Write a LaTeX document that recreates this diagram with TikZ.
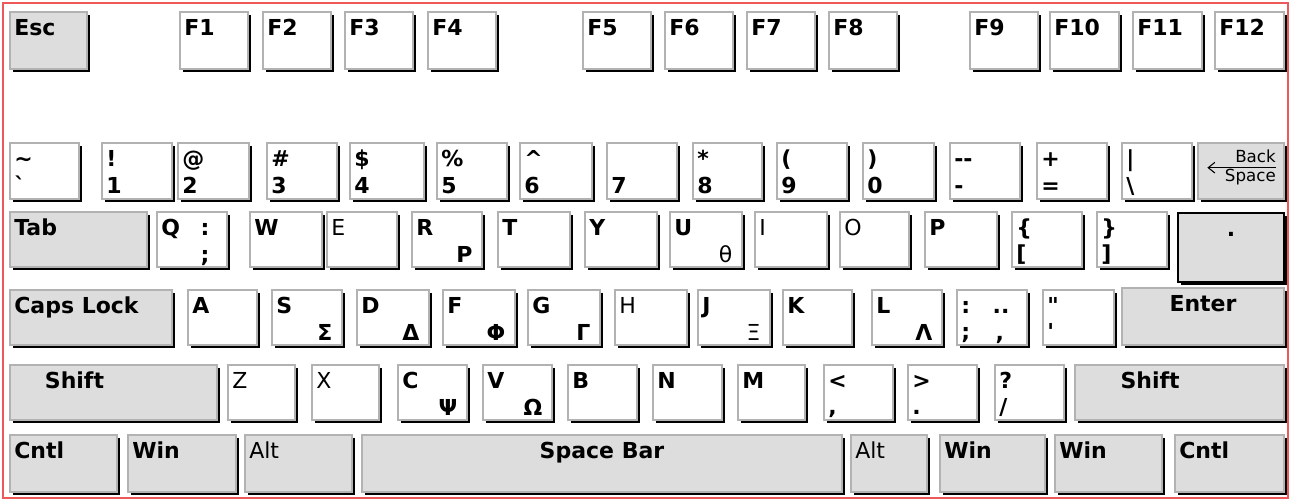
\documentclass[tikz,border=0pt]{standalone}
\usepackage{fontspec}
\newfontfamily\keyfont{DejaVu Sans}
\usepackage{xcolor}
\definecolor{kbgray}{RGB}{221,221,221}
\definecolor{kbrim}{RGB}{178,178,178}
\definecolor{kbred}{RGB}{238,88,88}
\usepackage{tikz}
\usetikzlibrary{arrows.meta, shadows, fit}

\tikzset{
  key/.style={draw=kbrim, line width=0.9pt, fill=white, inner sep=0pt, outer sep=0pt,
    drop shadow={shadow xshift=2.3pt, shadow yshift=-2.3pt, fill=black, opacity=1}},
  modkey/.style={key, fill=kbgray},
  keytext/.style={font={\keyfont\bfseries\fontsize{16.5}{17}\selectfont}, text height=12pt, text depth=0pt, inner xsep=3pt},
  ktl/.style={label={[keytext, anchor=north west, inner ysep=5.5pt]north west:{#1}}},
  ktr/.style={label={[keytext, anchor=north east, inner xsep=13pt, inner ysep=5.5pt]north east:{#1}}},
  kbl/.style={label={[keytext, anchor=south west, inner ysep=3.75pt]south west:{#1}}},
  kbr/.style={label={[keytext, anchor=south east, inner xsep=7pt, inner ysep=3pt]south east:{#1}}},
  ktop/.style={label={[keytext, anchor=north, inner ysep=5.5pt]north:{#1}}},
  kshift/.style={label={[keytext, anchor=north west, inner ysep=5.5pt, xshift=#1]north west:Shift}},
  kbframe/.style={draw=kbred, line width=1.5pt},
  bstext/.style={font={\keyfont\fontsize{12.5}{14}\selectfont}, align=right, inner sep=0pt},
  bsarrow/.style={-{Straight Barb[length=5pt, width=8pt]}, line width=0.8pt}
}

\begin{document}
\begin{tikzpicture}[x=0.75pt, y=-0.75pt]
  \useasboundingbox (0,0) rectangle (1291,501);
  \draw[kbframe] (3,3) rectangle (1288,498);

  % Function keys
  \node[modkey, fit={(10,12) (87,69)}, ktl=Esc] (kEsc) {};
  \node[key, fit={(180,12) (248,69)}, ktl=F1] (kF1) {};
  \node[key, fit={(263,12) (331,69)}, ktl=F2] (kF2) {};
  \node[key, fit={(345,12) (413,69)}, ktl=F3] (kF3) {};
  \node[key, fit={(428,12) (496,69)}, ktl=F4] (kF4) {};
  \node[key, fit={(583,12) (651,69)}, ktl=F5] (kF5) {};
  \node[key, fit={(665,12) (733,69)}, ktl=F6] (kF6) {};
  \node[key, fit={(747,12) (815,69)}, ktl=F7] (kF7) {};
  \node[key, fit={(829,12) (897,69)}, ktl=F8] (kF8) {};
  \node[key, fit={(970,12) (1038,69)}, ktl=F9] (kF9) {};
  \node[key, fit={(1050,12) (1119,69)}, ktl=F10] (kF10) {};
  \node[key, fit={(1133,12) (1202,69)}, ktl=F11] (kF11) {};
  \node[key, fit={(1215,12) (1284,69)}, ktl=F12] (kF12) {};

  % Number row
  \node[key, fit={(10,143) (79,199)}, ktl={\textasciitilde}, kbl={`}] (kTilde) {};
  \node[key, fit={(102,143) (172,199)}, ktl=!, kbl=1] (k1) {};
  \node[key, fit={(178,143) (249,199)}, ktl=@, kbl=2] (k2) {};
  \node[key, fit={(267,143) (337,199)}, ktl={\#}, kbl=3] (k3) {};
  \node[key, fit={(350,143) (424,199)}, ktl={\$}, kbl=4] (k4) {};
  \node[key, fit={(437,143) (507,199)}, ktl={\%}, kbl=5] (k5) {};
  \node[key, fit={(520,143) (592,199)}, ktl={\textasciicircum}, kbl=6] (k6) {};
  \node[key, fit={(607,143) (677,199)}, kbl=7] (k7) {};
  \node[key, fit={(693,143) (762,199)}, ktl=*, kbl=8] (k8) {};
  \node[key, fit={(777,143) (847,199)}, ktl={(}, kbl=9] (k9) {};
  \node[key, fit={(863,143) (934,199)}, ktl={)}, kbl=0] (k0) {};
  \node[key, fit={(950,143) (1020,199)}, ktl={--}, kbl={-}] (kMinus) {};
  \node[key, fit={(1037,143) (1107,199)}, ktl={+}, kbl={=}] (kPlus) {};
  \node[key, fit={(1122,143) (1192,199)}, ktl={|}, kbl={\textbackslash}] (kBslash) {};
  \node[modkey, fit={(1198,143) (1284,199)}] (kBksp) {};
  \node[bstext, anchor=east] (bslabel) at ([xshift=-6pt, yshift=2.5pt]kBksp.east) {Back\\Space};
  \coordinate (bstip) at ([xshift=7pt, yshift=2.5pt]kBksp.west);
  \draw[bsarrow] (bslabel.east) -- (bstip);

  % Tab row
  \node[modkey, fit={(10,212) (147,267)}, ktl=Tab] (kTab) {};
  \node[key, fit={(157,212) (227,267)}, ktl=Q, ktr={:},
    label={[keytext, anchor=south east, inner xsep=13pt, inner ysep=3pt]south east:{;}}] (kQ) {};
  \node[key, fit={(250,212) (322,267)}, ktl=W] (kW) {};
  \node[key, fit={(327,212) (397,267)}, ktl={\mdseries E}] (kE) {};
  \node[key, fit={(412,212) (482,267)}, ktl=R, kbr={Ρ}] (kR) {};
  \node[key, fit={(498,212) (570,267)}, ktl=T] (kT) {};
  \node[key, fit={(585,212) (657,267)}, ktl=Y] (kY) {};
  \node[key, fit={(670,212) (742,267)}, ktl=U, kbr={\mdseries θ}] (kU) {};
  \node[key, fit={(755,212) (827,267)}, ktl={\mdseries I}] (kI) {};
  \node[key, fit={(840,212) (909,267)}, ktl={\mdseries O}] (kO) {};
  \node[key, fit={(925,212) (997,267)}, ktl=P] (kP) {};
  \node[key, fit={(1012,212) (1082,267)}, ktl={\{}, kbl={[}] (kLbrace) {};
  \node[key, fit={(1097,212) (1167,267)}, ktl={\}}, kbl={]}] (kRbrace) {};
  \node[modkey, draw=black, line width=1.2pt, fit={(1178,213) (1284,282)}, ktop={.}] (kDot) {};

  % Caps row
  \node[modkey, fit={(10,290) (172,345)}, ktl={Caps Lock}] (kCaps) {};
  \node[key, fit={(188,290) (257,345)}, ktl=A] (kA) {};
  \node[key, fit={(272,290) (342,345)}, ktl=S, kbr={Σ}] (kS) {};
  \node[key, fit={(357,290) (429,345)}, ktl=D, kbr={Δ}] (kD) {};
  \node[key, fit={(443,290) (515,345)}, ktl=F, kbr={Φ}] (kF) {};
  \node[key, fit={(528,290) (600,345)}, ktl=G, kbr={Γ}] (kG) {};
  \node[key, fit={(615,290) (687,345)}, ktl={\mdseries H}] (kH) {};
  \node[key, fit={(698,290) (770,345)}, ktl=J, kbr={\mdseries Ξ}] (kJ) {};
  \node[key, fit={(783,290) (852,345)}, ktl=K] (kK) {};
  \node[key, fit={(872,290) (942,345)}, ktl=L, kbr={Λ}] (kL) {};
  \node[key, fit={(957,290) (1027,345)}, ktl={:}, ktr={..}, kbl={;},
    label={[keytext, anchor=south east, inner xsep=17pt, inner ysep=3pt]south east:{,}}] (kSemi) {};
  \node[key, fit={(1043,290) (1114,345)}, ktl={"}, kbl={'}] (kQuote) {};
  \node[modkey, fit={(1122,288) (1284,345)}, ktop=Enter] (kEnter) {};

  % Shift row
  \node[modkey, fit={(10,365) (217,420)}, kshift=23pt] (kLShift) {};
  \node[key, fit={(228,365) (295,420)}, ktl={\mdseries Z}] (kZ) {};
  \node[key, fit={(312,365) (379,420)}, ktl={\mdseries X}] (kX) {};
  \node[key, fit={(398,365) (467,420)}, ktl=C, kbr={Ψ}] (kC) {};
  \node[key, fit={(483,365) (552,420)}, ktl=V, kbr={Ω}] (kV) {};
  \node[key, fit={(568,365) (637,420)}, ktl=B] (kB) {};
  \node[key, fit={(653,365) (722,420)}, ktl=N] (kN) {};
  \node[key, fit={(738,365) (805,420)}, ktl=M] (kM) {};
  \node[key, fit={(824,365) (893,420)}, ktl={<}, kbl={,}] (kLess) {};
  \node[key, fit={(908,365) (977,420)}, ktl={>}, kbl={.}] (kGreater) {};
  \node[key, fit={(995,365) (1064,420)}, ktl={?}, kbl={/}] (kSlash) {};
  \node[modkey, fit={(1075,365) (1284,420)}, kshift=31pt] (kRShift) {};

  % Bottom row
  \node[modkey, fit={(10,435) (117,492)}, ktl=Cntl] (kLCtrl) {};
  \node[modkey, fit={(128,435) (236,492)}, ktl=Win] (kLWin) {};
  \node[modkey, fit={(245,435) (352,492)}, ktl={\mdseries Alt}] (kLAlt) {};
  \node[modkey, fit={(362,435) (842,492)}, ktop={Space Bar}] (kSpace) {};
  \node[modkey, fit={(851,435) (927,492)}, ktl={\mdseries Alt}] (kRAlt) {};
  \node[modkey, fit={(940,435) (1045,492)}, ktl=Win] (kRWin) {};
  \node[modkey, fit={(1055,435) (1162,492)}, ktl=Win] (kMenu) {};
  \node[modkey, fit={(1175,435) (1284,492)}, ktl=Cntl] (kRCtrl) {};
\end{tikzpicture}
\end{document}
